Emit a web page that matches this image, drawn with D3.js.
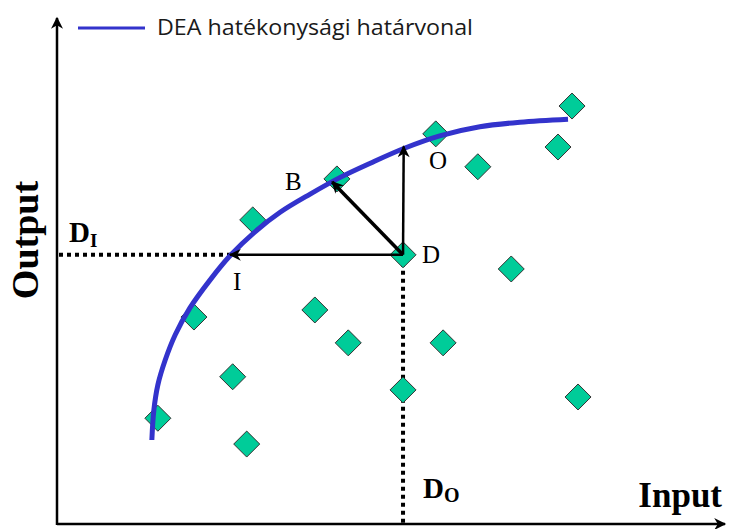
<!DOCTYPE html>
<html>
<head>
<meta charset="utf-8">
<script src="https://cdn.jsdelivr.net/npm/d3@7"></script>
<style>
  body { margin: 0; background: #fff; }
  .serif { font-family: "Liberation Serif", "DejaVu Serif", serif; fill: #000; }
  .legend-text { font-family: "Open Sans", "Noto Sans", sans-serif; fill: #1a1a1a; }
</style>
</head>
<body>
<svg width="730" height="529"></svg>
<script>
// decision making units (input, output)
const dmuInput  = [77.1, 56.7, 75.0, 63.0, 41.9, 29.3, 51.8, 68.0, 20.5, 38.6, 43.6, 57.8, 26.3, 51.8, 78.0, 15.1, 28.4];
const dmuOutput = [82.6, 77.1, 74.5, 70.6, 68.2, 60.1, 53.2, 50.4, 40.9, 42.3, 35.8, 35.8, 29.1, 26.5, 25.1, 20.9, 15.8];

// efficiency frontier
const frontierInput  = [14.2, 14.5, 15.1, 16.2, 17.7, 19.9, 22.9, 25.9, 29.6, 33.4, 37.9, 42.4, 46.9, 52.1, 57.3, 63.3, 69.3, 76.5];
const frontierOutput = [16.6, 22.5, 27.5, 32.4, 37.4, 42.7, 48.2, 53.0, 57.7, 61.6, 65.2, 68.5, 71.3, 74.3, 76.7, 78.5, 79.4, 80.0];

// projection points of D
const pointNames  = ["D", "I", "B", "O"];
const pointInput  = [51.8, 25.9, 41.2, 51.9];
const pointOutput = [53.2, 53.2, 67.6, 74.6];

const legendLabel = "DEA hatékonysági határvonal";
const xAxisLabel = "Input";
const yAxisLabel = "Output";

const svg = d3.select("svg");
const width = +svg.attr("width");
const height = +svg.attr("height");

const xScale = d3.scaleLinear().domain([0, 100]).range([57, 725]);
const yScale = d3.scaleLinear().domain([0, 100]).range([524, 18]);

const pt = name => {
  const i = pointNames.indexOf(name);
  return [xScale(pointInput[i]), yScale(pointOutput[i])];
};

const defs = svg.append("defs");
const marker = (id, w, h) => defs.append("marker")
  .attr("id", id)
  .attr("viewBox", "0 0 10 10")
  .attr("refX", 9).attr("refY", 5)
  .attr("markerUnits", "userSpaceOnUse")
  .attr("markerWidth", w).attr("markerHeight", h)
  .attr("orient", "auto")
  .append("path")
  .attr("d", "M0,0 L10,5 L0,10 L3,5 Z")
  .attr("fill", "#000");
marker("arrow", 14, 12);
marker("axisArrow", 14, 12);

// axes
svg.append("line")
  .attr("x1", xScale(0)).attr("y1", yScale(0) + 1)
  .attr("x2", xScale(0)).attr("y2", yScale(100))
  .attr("stroke", "#000").attr("stroke-width", 2.5)
  .attr("marker-end", "url(#axisArrow)");
svg.append("line")
  .attr("x1", xScale(0)).attr("y1", yScale(0))
  .attr("x2", xScale(100)).attr("y2", yScale(0))
  .attr("stroke", "#000").attr("stroke-width", 2.5)
  .attr("marker-end", "url(#axisArrow)");

// dotted guides
const [dx, dy] = pt("D");
const [ix, iy] = pt("I");
svg.append("line")
  .attr("x1", xScale(0) + 2).attr("y1", dy)
  .attr("x2", ix).attr("y2", iy)
  .attr("stroke", "#000").attr("stroke-width", 4)
  .attr("stroke-dasharray", "4,4");
svg.append("line")
  .attr("x1", dx).attr("y1", dy)
  .attr("x2", dx).attr("y2", yScale(0))
  .attr("stroke", "#000").attr("stroke-width", 4)
  .attr("stroke-dasharray", "4,4");

// frontier
const frontier = frontierInput.map((x, i) => [x, frontierOutput[i]]);
const lineGenerator = d3.line()
  .x(d => xScale(d[0]))
  .y(d => yScale(d[1]))
  .curve(d3.curveCatmullRom);

// diamonds
const dmus = dmuInput.map((x, i) => ({ x, y: dmuOutput[i] }));
svg.selectAll(".dmu")
  .data(dmus)
  .enter()
  .append("path")
  .attr("class", "dmu")
  .attr("transform", d => `translate(${xScale(d.x)},${yScale(d.y)})`)
  .attr("d", "M0,-13 L13,0 L0,13 L-13,0 Z")
  .attr("fill", "#00cc99")
  .attr("stroke", "#333")
  .attr("stroke-width", 1);

svg.append("path")
  .attr("d", lineGenerator(frontier))
  .attr("fill", "none")
  .attr("stroke", "#3333cc")
  .attr("stroke-width", 5);

// projection arrows
["I", "B", "O"].forEach(name => {
  const [tx, ty] = pt(name);
  svg.append("line")
    .attr("x1", dx).attr("y1", dy)
    .attr("x2", tx).attr("y2", ty)
    .attr("stroke", "#000")
    .attr("stroke-width", name === "B" ? 3.5 : 2.5)
    .attr("marker-end", "url(#arrow)");
});

// point labels
const labels = [
  { t: "D", x: 422, y: 263 },
  { t: "I", x: 233, y: 290 },
  { t: "B", x: 285, y: 190 },
  { t: "O", x: 429, y: 169 }
];
svg.selectAll(".plabel")
  .data(labels)
  .enter()
  .append("text")
  .attr("class", "serif")
  .attr("x", d => d.x).attr("y", d => d.y)
  .attr("font-size", 25)
  .text(d => d.t);

// D_I and D_O
const di = svg.append("text").attr("class", "serif")
  .attr("x", 69).attr("y", 242)
  .attr("font-size", 29).attr("font-weight", "bold");
di.append("tspan").text("D");
di.append("tspan").attr("font-size", 19).attr("dy", 5).text("I");

const dO = svg.append("text").attr("class", "serif")
  .attr("x", 423).attr("y", 498)
  .attr("font-size", 29).attr("font-weight", "bold");
dO.append("tspan").text("D");
dO.append("tspan").attr("font-size", 20).attr("dy", 4).text("O");

// axis labels
svg.append("text").attr("class", "serif")
  .attr("x", 722).attr("y", 507)
  .attr("text-anchor", "end")
  .attr("font-size", 35).attr("font-weight", "bold")
  .text(xAxisLabel);
svg.append("text").attr("class", "serif")
  .attr("transform", `translate(38,240) rotate(-90)`)
  .attr("text-anchor", "middle")
  .attr("font-size", 38).attr("font-weight", "bold")
  .text(yAxisLabel);

// legend
svg.append("line")
  .attr("x1", 78).attr("y1", 28)
  .attr("x2", 145).attr("y2", 28)
  .attr("stroke", "#3333cc").attr("stroke-width", 3);
svg.append("text").attr("class", "legend-text")
  .attr("x", 157).attr("y", 35)
  .attr("font-size", 22)
  .attr("textLength", 316)
  .attr("lengthAdjust", "spacingAndGlyphs")
  .text(legendLabel);
</script>
</body>
</html>
